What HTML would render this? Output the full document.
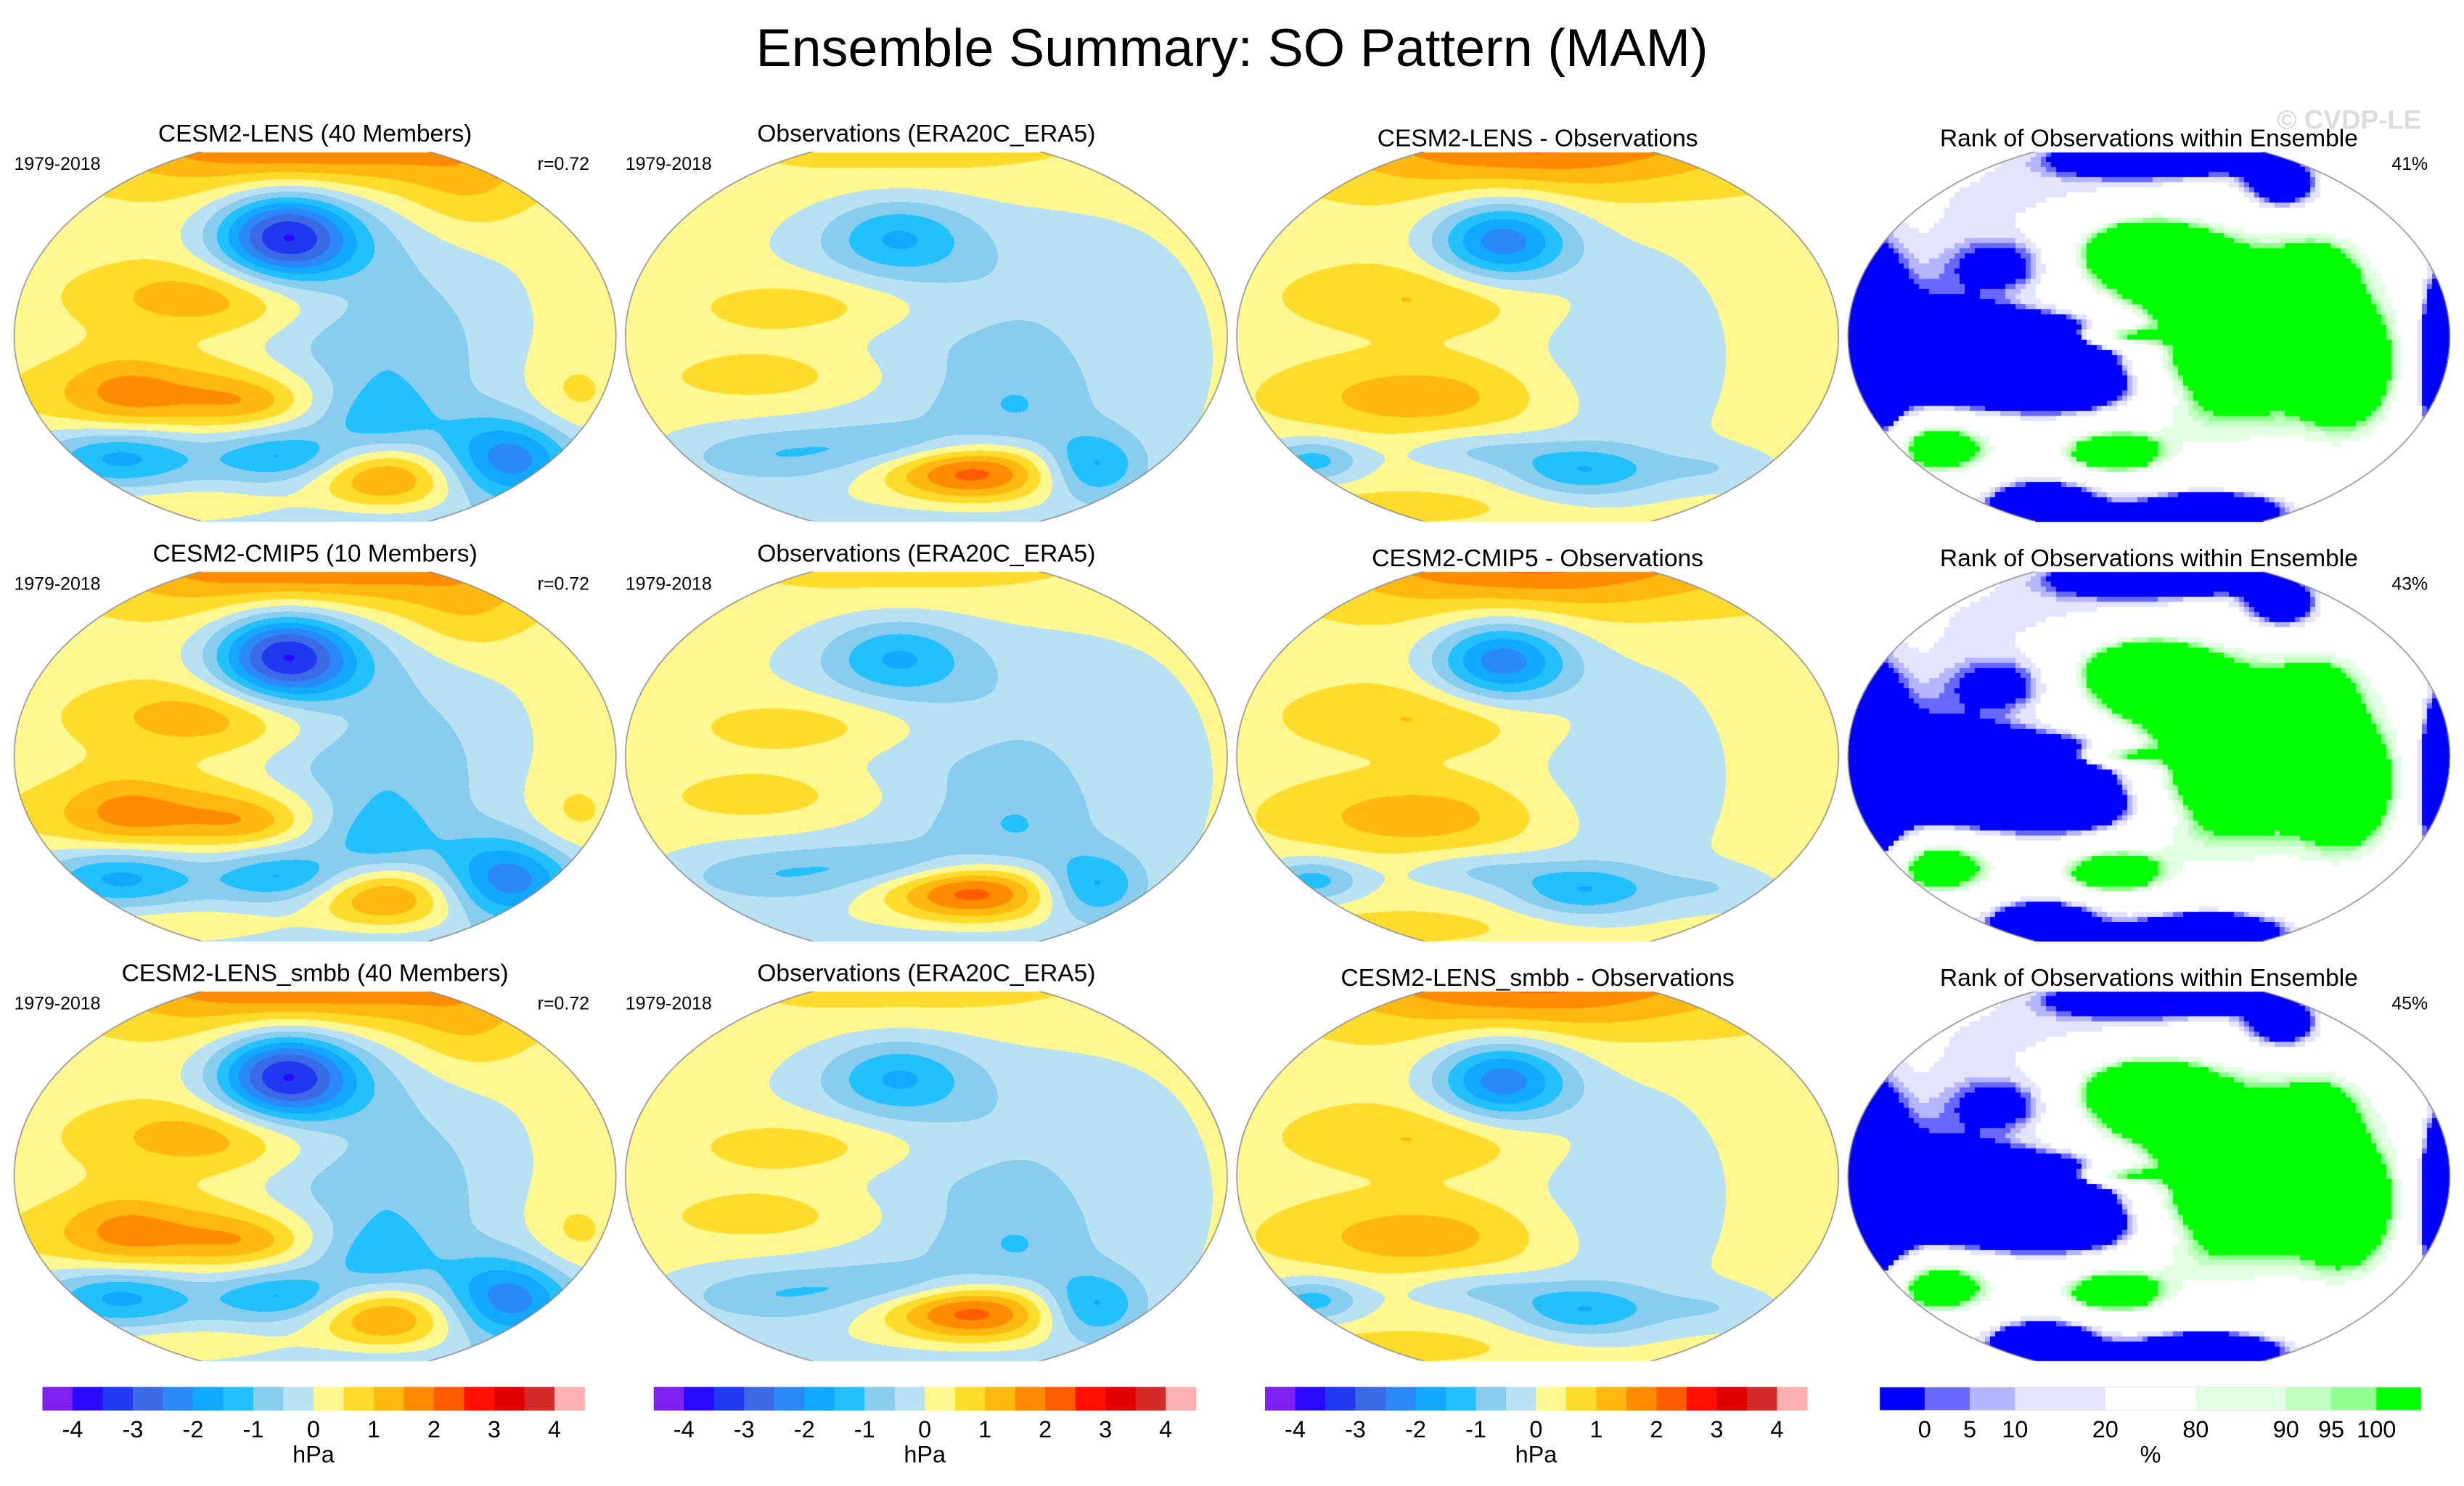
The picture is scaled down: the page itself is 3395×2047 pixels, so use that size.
<!DOCTYPE html>
<html><head><meta charset="utf-8">
<style>
html,body{margin:0;padding:0;background:#fff;}
#wrap{position:relative;width:3395px;height:2047px;overflow:hidden;}
canvas,svg{position:absolute;left:0;top:0;}
text{font-family:"Liberation Sans",Arial,sans-serif;fill:#000;}
</style></head>
<body>
<div id="wrap">
<canvas id="cv" width="3395" height="2047"></canvas>
<svg id="ov" width="3395" height="2047" viewBox="0 0 1568 945" preserveAspectRatio="none">
<text x="784" y="42" font-size="34" text-anchor="middle" textLength="606">Ensemble Summary: SO Pattern (MAM)</text>
<text x="1495" y="82" font-size="17" font-weight="bold" text-anchor="middle" style="fill:#dcdcdc">© CVDP-LE</text>
</svg>
</div>
<script>
// ---- data ----
const hpaLevels = [-4,-3.5,-3,-2.5,-2,-1.5,-1,-0.5,0,0.5,1,1.5,2,2.5,3,3.5,4];
const hpaColors = ["#8020f0","#2a0aff","#2038f0","#3a6ae6","#2a88f8","#12a8ff","#22c0fc","#88ccee","#b8e2f4","#fff890","#ffdc2c","#ffb810","#ff8c00","#ff5c00","#ff1000","#e00000","#d42a2a","#ffb0b0"];
const hpaTickLabels = ["-4","-3","-2","-1","0","1","2","3","4"];
const rankLevels = [0,5,10,20,80,90,95,100];
const rankColors = ["#0000ff","#6868ff","#b4b4ff","#e4e4fc","#ffffff","#e2ffe2","#c0ffc0","#90ff90","#00ff00"];
const rankWidths = [1,1,1,2,2,2,1,1,1];
const rankTickLabels = ["0","5","10","20","80","90","95","100"];
const rowTitles = ["CESM2-LENS (40 Members)","CESM2-CMIP5 (10 Members)","CESM2-LENS_smbb (40 Members)"];
const diffTitles = ["CESM2-LENS - Observations","CESM2-CMIP5 - Observations","CESM2-LENS_smbb - Observations"];
const rankPercents = ["41%","43%","45%"];
const corrValues = ["r=0.72","r=0.72","r=0.72"];
// blobs: [u, v, su, sv, amplitude]
const modelBlobs = [
 [0,-1.05,0.5,0.22,2.4],[0.5,-0.7,0.15,0.18,0.6],
 [-0.1,-0.5,0.16,0.16,-3.5],[0.2,0.15,0.3,0.6,-1.3],
 [-0.3,-0.2,0.3,0.13,1.3],[-0.4,0.3,0.35,0.13,1.4],[-0.2,0.33,0.12,0.07,0.5],
 [0.2,0.38,0.12,0.12,-0.6],[0.23,0.7,0.18,0.12,2.4],[0.65,0.62,0.15,0.15,-2.0],
 [-0.65,0.6,0.18,0.11,-1.6],[-0.12,0.6,0.15,0.08,-1.1],[0,0.62,1.0,0.15,-0.4],
 [0,1.0,0.8,0.1,-0.6],[-0.65,0.25,0.12,0.15,0.5],[0.85,0.3,0.1,0.15,0.5],[-0.4,0.85,0.25,0.06,0.6]];
const obsBlobs = [
 [0,-1.0,0.5,0.22,0.7],[-0.1,-0.5,0.17,0.14,-1.4],[0.15,0.1,0.5,0.6,-0.9],
 [-0.35,-0.15,0.3,0.12,0.9],[-0.45,0.2,0.3,0.12,0.8],[0.15,0.68,0.2,0.1,2.5],
 [0.55,0.65,0.12,0.12,-1.6],[-0.55,0.6,0.22,0.1,-0.9],[0.3,0.35,0.14,0.14,-0.5],
 [-0.1,0.55,0.22,0.07,-0.7],[0,0.98,0.6,0.08,-0.5]];
const diffBlobs = [
 [0,-1.05,0.5,0.22,2.1],[-0.12,-0.48,0.16,0.15,-2.6],
 [-0.35,-0.2,0.3,0.12,0.8],[-0.4,0.3,0.3,0.13,1.0],[0.15,0.67,0.17,0.09,-1.5],
 [-0.75,0.62,0.12,0.08,-1.5],[0.3,0.1,0.25,0.45,-0.7],[-0.2,0.57,0.18,0.07,-0.8],
 [0.6,0.66,0.15,0.08,-0.6],[-0.5,0.85,0.3,0.06,0.5]];
const rankBlobs = [
 [-0.4,0.02,0.35,0.1,-120],[-0.3,0.25,0.25,0.1,-120],[-0.93,0.1,0.08,0.4,-110],
 [0.96,0.1,0.05,0.35,-110],[0.05,-0.9,0.25,0.07,-100],[0.45,-0.75,0.1,0.1,-80],
 [-0.45,-0.35,0.12,0.1,-40],[-0.35,0.82,0.14,0.08,-90],[0.2,0.85,0.17,0.06,-90],
 [-0.75,0.1,0.18,0.3,-50],[-0.3,-0.75,0.45,0.15,-30],[0.0,0.95,0.8,0.08,-40],
 [-0.6,-0.4,0.2,0.2,-25],
 [0.22,0.0,0.22,0.3,120],[-0.02,-0.42,0.15,0.12,120],[0.65,0.15,0.1,0.2,100],
 [0.55,-0.3,0.08,0.1,80],[-0.7,0.55,0.13,0.1,100],[-0.12,0.58,0.11,0.07,100],
 [-0.12,0.0,0.1,0.04,90],[0.6,-0.1,0.22,0.45,30]];
const baseValues = [0.25,0.25,0.3,50];

// ---- layout ----
const SX = 3395/1568, SY = 2047/945;
const colCX = [200.5,589.5,978.5,1367.5];
const rowCY = [214,481,748];
const RX = 191.5, RY = 127, VCLIP = 0.925;

function hexToRgb(h){return [parseInt(h.substr(1,2),16),parseInt(h.substr(3,2),16),parseInt(h.substr(5,2),16)];}
const hpaRGB = hpaColors.map(hexToRgb), rankRGB = rankColors.map(hexToRgb);
function field(blobs, base, u, v){
  let s = base;
  for (const b of blobs){const du=(u-b[0])/b[2], dv=(v-b[1])/b[3]; s += b[4]*Math.exp(-(du*du+dv*dv)/2);}
  return s;
}
function levelIndex(levels, val){let i=0; while(i<levels.length && val>=levels[i]) i++; return i;}

const cv = document.getElementById('cv');
const ctx = cv.getContext('2d');
const img = ctx.createImageData(3395,2047);
const D = img.data;
for (let i=0;i<D.length;i+=4){D[i]=255;D[i+1]=255;D[i+2]=255;D[i+3]=255;}
const colBlobs = [modelBlobs, obsBlobs, diffBlobs, rankBlobs];
for (let r=0;r<3;r++) for (let c=0;c<4;c++){
  const cx=colCX[c], cy=rowCY[r], blobs=colBlobs[c], base=baseValues[c];
  const x0=Math.floor((cx-RX)*SX), x1=Math.ceil((cx+RX)*SX);
  const y0=Math.floor((cy-RY*VCLIP)*SY), y1=Math.ceil((cy+RY*VCLIP)*SY);
  const blk = c===3 ? 7 : 1;
  let cache = {};
  for (let py=y0; py<=y1; py++){
    for (let px=x0; px<=x1; px++){
      const u=(px/SX-cx)/RX, v=(py/SY-cy)/RY;
      if (u*u+v*v>1 || Math.abs(v)>VCLIP) continue;
      let rgb;
      if (c===3){
        const bx=Math.floor((px-x0)/blk), by=Math.floor((py-y0)/blk), key=bx+'_'+by;
        if (!(key in cache)){
          const uu=((x0+(bx+0.5)*blk)/SX-cx)/RX, vv=((y0+(by+0.5)*blk)/SY-cy)/RY;
          cache[key]=levelIndex(rankLevels, field(blobs, base, uu, vv));
        }
        rgb = rankRGB[cache[key]];
      } else {
        rgb = hpaRGB[levelIndex(hpaLevels, field(blobs, base, u, v))];
      }
      const k=(py*3395+px)*4; D[k]=rgb[0];D[k+1]=rgb[1];D[k+2]=rgb[2];
    }
  }
}
ctx.putImageData(img,0,0);
// outlines
ctx.strokeStyle='#888'; ctx.lineWidth=1.5;
for (let r=0;r<3;r++) for (let c=0;c<4;c++){
  ctx.save(); ctx.beginPath();
  ctx.rect((colCX[c]-RX-2)*SX,(rowCY[r]-RY*VCLIP)*SY,(2*RX+4)*SX,2*RY*VCLIP*SY); ctx.clip();
  ctx.beginPath(); ctx.ellipse(colCX[c]*SX,rowCY[r]*SY,RX*SX,RY*SY,0,0,Math.PI*2); ctx.stroke();
  ctx.restore();
}

// ---- text & colorbars ----
const NS='http://www.w3.org/2000/svg';
const ov=document.getElementById('ov');
function txt(x,y,s,size,anchor,name){
  const t=document.createElementNS(NS,'text');
  t.setAttribute('x',x); t.setAttribute('y',y); t.setAttribute('font-size',size);
  t.setAttribute('text-anchor',anchor); t.textContent=s;
  
  
  ov.appendChild(t); return t;
}
for (let r=0;r<3;r++){
  const dy=r*267;
  txt(200.5,90+dy,rowTitles[r],15.5,'middle','model-panel-title');
  txt(589.5,90+dy,'Observations (ERA20C_ERA5)',15.5,'middle','obs-panel-title');
  txt(978.5,93+dy,diffTitles[r],15.5,'middle','diff-panel-title');
  txt(1367.5,93+dy,'Rank of Observations within Ensemble',15.5,'middle','rank-panel-title');
  txt(9,108+dy,'1979-2018',11.5,'start','model-period-label');
  txt(375,108+dy,corrValues[r],11.5,'end','pattern-correlation');
  txt(398,108+dy,'1979-2018',11.5,'start','obs-period-label');
  txt(1545,108+dy,rankPercents[r],11.5,'end','rank-percent');
}
const cbX=[27,416,805], cbW=345, cbY=882, cbH=15;
for (let c=0;c<3;c++){
  const bw=cbW/hpaColors.length;
  hpaColors.forEach((col,i)=>{
    const re=document.createElementNS(NS,'rect');
    re.setAttribute('x',cbX[c]+i*bw); re.setAttribute('y',cbY); re.setAttribute('width',bw+0.3); re.setAttribute('height',cbH);
    re.setAttribute('fill',col);
    
    
    ov.appendChild(re);
  });
  hpaTickLabels.forEach((l,j)=>{ txt(cbX[c]+(1+2*j)*bw,914,l,15,'middle','colorbar-tick-label'); });
  txt(cbX[c]+cbW/2,930,'hPa',15,'middle','colorbar-units');
}
{
  const x0=1196, unit=cbW/rankWidths.reduce((a,b)=>a+b,0); let acc=0; const bounds=[];
  rankColors.forEach((col,i)=>{
    const re=document.createElementNS(NS,'rect');
    re.setAttribute('x',x0+acc*unit); re.setAttribute('y',cbY); re.setAttribute('width',rankWidths[i]*unit+0.3); re.setAttribute('height',cbH);
    re.setAttribute('fill',col);
    
    
    ov.appendChild(re);
    acc+=rankWidths[i]; bounds.push(acc);
  });
  const fr=document.createElementNS(NS,'rect');
  fr.setAttribute('x',x0); fr.setAttribute('y',cbY); fr.setAttribute('width',cbW); fr.setAttribute('height',cbH);
  fr.setAttribute('fill','none'); fr.setAttribute('stroke','#e8e8e8'); fr.setAttribute('stroke-width','0.6');
  
  
  ov.appendChild(fr);
  rankTickLabels.forEach((l,j)=>{ txt(x0+bounds[j]*unit,914,l,15,'middle','rank-colorbar-tick-label'); });
  txt(x0+cbW/2,930,'%',15,'middle','rank-colorbar-units');
}
</script>
</body></html>
